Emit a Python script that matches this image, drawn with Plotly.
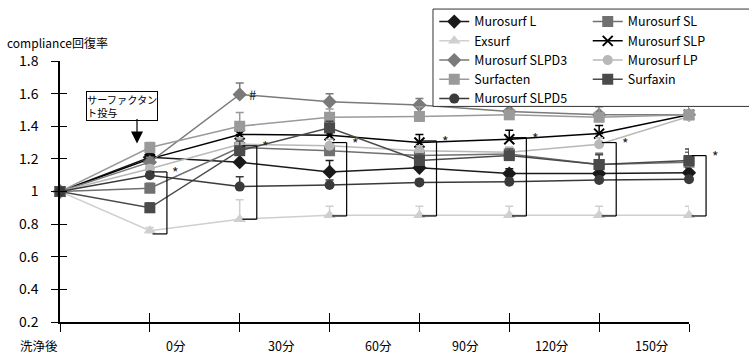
import plotly.graph_objects as go

# ---------------- data ----------------
x_index = [0, 1, 2, 3, 4, 5, 6, 7]
x_tick_labels = ["洗浄後", "0分", "30分", "60分", "90分", "120分", "150分"]
x_label_pos = [-0.23, 1.29, 2.46, 3.54, 4.51, 5.48, 6.59]
y_tick_vals = [0.2, 0.4, 0.6, 0.8, 1.0, 1.2, 1.4, 1.6, 1.8]
y_tick_labels = ["0.2", "0.4", "0.6", "0.8", "1", "1.2", "1.4", "1.6", "1.8"]

murosurf_L = [1, 1.21, 1.18, 1.12, 1.145, 1.11, 1.11, 1.115]
murosurf_L_err = [0, 0.02, 0.05, 0.07, 0.03, 0.03, 0.03, 0.03]
murosurf_SL = [1, 1.02, 1.27, 1.25, 1.22, 1.23, 1.165, 1.18]
murosurf_SL_err = [0, 0.03, 0.05, 0.04, 0.04, 0.04, 0.07, 0.06]
exsurf = [1, 0.76, 0.83, 0.855, 0.855, 0.855, 0.855, 0.855]
exsurf_err = [0, 0.02, 0.12, 0.055, 0.055, 0.055, 0.055, 0.055]
murosurf_SLP = [1, 1.20, 1.35, 1.345, 1.30, 1.32, 1.355, 1.47]
murosurf_SLP_err = [0, 0.02, 0.04, 0.03, 0.05, 0.055, 0.05, 0.11]
murosurf_SLPD3 = [1, 1.18, 1.595, 1.55, 1.53, 1.49, 1.47, 1.47]
murosurf_SLPD3_err = [0, 0.03, 0.07, 0.05, 0.04, 0.04, 0.05, 0.06]
murosurf_LP = [1, 1.14, 1.29, 1.28, 1.25, 1.24, 1.29, 1.46]
murosurf_LP_err = [0, 0.02, 0.04, 0.04, 0.03, 0.03, 0.04, 0.03]
surfacten = [1, 1.27, 1.40, 1.455, 1.46, 1.47, 1.455, 1.47]
surfacten_err = [0, 0.03, 0.085, 0.05, 0.06, 0.07, 0.09, 0.08]
surfaxin = [1, 0.90, 1.25, 1.39, 1.19, 1.22, 1.165, 1.19]
surfaxin_err = [0, 0.03, 0.06, 0.04, 0.04, 0.04, 0.06, 0.07]
murosurf_SLPD5 = [1, 1.10, 1.03, 1.04, 1.055, 1.06, 1.07, 1.075]
murosurf_SLPD5_err = [0, 0.02, 0.06, 0.03, 0.02, 0.02, 0.02, 0.02]

# significance brackets (* markers)
sig_cols = [1, 2, 3, 4, 5, 6, 7]
sig_top = [1.12, 1.28, 1.30, 1.31, 1.33, 1.30, 1.22]
sig_bottom = [0.74, 0.83, 0.85, 0.85, 0.85, 0.85, 0.85]

FONT = "Noto Sans CJK JP, Noto Sans, sans-serif"

series = [
    # name, values, err, color, symbol, size, legend
    ("Murosurf L", murosurf_L, murosurf_L_err, "#1a1a1a", "diamond", 11, "legend"),
    ("Murosurf SL", murosurf_SL, murosurf_SL_err, "#707070", "square", 11, "legend2"),
    ("Exsurf", exsurf, exsurf_err, "#cfcfcf", "triangle-up", 11, "legend"),
    ("Murosurf SLP", murosurf_SLP, murosurf_SLP_err, "#000000", "x-thin-open", 10, "legend2"),
    ("Murosurf SLPD3", murosurf_SLPD3, murosurf_SLPD3_err, "#7a7a7a", "diamond", 11, "legend"),
    ("Murosurf LP", murosurf_LP, murosurf_LP_err, "#b8b8b8", "circle", 10, "legend2"),
    ("Surfacten", surfacten, surfacten_err, "#9a9a9a", "square", 11, "legend"),
    ("Surfaxin", surfaxin, surfaxin_err, "#4a4a4a", "square", 11, "legend2"),
    ("Murosurf SLPD5", murosurf_SLPD5, murosurf_SLPD5_err, "#3a3a3a", "circle", 10, "legend"),
]

fig = go.Figure()
for name, vals, err, color, symbol, size, leg in series:
    marker = dict(symbol=symbol, size=size, color=color)
    if symbol.startswith("x-thin"):
        marker["line"] = dict(color=color, width=2)
    fig.add_trace(go.Scatter(
        x=x_index, y=vals, name=name, mode="lines+markers",
        line=dict(color=color, width=1.5),
        marker=marker,
        error_y=dict(type="data", array=err, arrayminus=[0] * len(err),
                     symmetric=False, color=color, thickness=1.5, width=4),
        cliponaxis=False, legend=leg,
    ))

# dummy trace for overlay axes (crossing tick marks)
fig.add_trace(go.Scatter(x=[None], y=[None], xaxis="x2", yaxis="y2",
                         showlegend=False, hoverinfo="skip"))

N = 7.0  # x range span
shapes = []
annotations = []
for c, top, bot in zip(sig_cols, sig_top, sig_bottom):
    xa = (c + 0.03) / N
    xb = (c + 0.19) / N
    shapes.append(dict(type="line", xref="paper", yref="y", x0=xa, x1=xb, y0=top, y1=top,
                       line=dict(color="black", width=1.2)))
    shapes.append(dict(type="line", xref="paper", yref="y", x0=xb, x1=xb, y0=top, y1=bot,
                       line=dict(color="black", width=1.2)))
    shapes.append(dict(type="line", xref="paper", yref="y", x0=xa, x1=xb, y0=bot, y1=bot,
                       line=dict(color="black", width=1.2)))
    annotations.append(dict(text="*", xref="paper", yref="y", x=(c + 0.29) / N, y=top,
                            showarrow=False, font=dict(family=FONT, size=14, color="#222"),
                            xanchor="center", yanchor="middle"))

# '#' mark on SLPD3 at 30分
annotations.append(dict(text="#", xref="paper", yref="y", x=(2 + 0.08) / N,
                        y=murosurf_SLPD3[2], showarrow=False,
                        font=dict(family=FONT, size=13, color="#222"),
                        xanchor="left", yanchor="middle"))

# x category labels
for lab, pos in zip(x_tick_labels, x_label_pos):
    annotations.append(dict(text=lab, xref="paper", yref="paper", x=pos / N, y=-0.09,
                            showarrow=False, font=dict(family=FONT, size=12.5, color="black"),
                            xanchor="center", yanchor="middle"))

# y title
annotations.append(dict(text="compliance回復率", xref="paper", yref="paper",
                        x=-0.087, y=1.072, showarrow=False, xanchor="left", yanchor="middle",
                        font=dict(family=FONT, size=12, color="black")))

# surfactant administration box + arrow
annotations.append(dict(text="サーファクタン<br>ト投与", xref="paper", yref="paper",
                        x=0.0413, y=0.885, xanchor="left", yanchor="top", align="left",
                        showarrow=False, bordercolor="black", borderwidth=1, borderpad=0,
                        bgcolor="white", font=dict(family=FONT, size=10.2, color="black")))
annotations.append(dict(text="", xref="x", yref="y", x=0.857, y=1.295,
                        ax=0, ay=-26, showarrow=True, arrowhead=2, arrowsize=2,
                        arrowwidth=1.2, arrowcolor="black"))

# legend frame (white, opaque, drawn above traces; legends drawn on top)
shapes.append(dict(type="rect", xref="paper", yref="paper", x0=0.593, x1=1.2,
                   y0=0.826, y1=1.199, line=dict(color="#333", width=1),
                   fillcolor="white", layer="above"))

fig.update_layout(
    width=749, height=355,
    margin=dict(l=60, r=60, t=61, b=33, autoexpand=False),
    paper_bgcolor="white", plot_bgcolor="white",
    font=dict(family=FONT, color="black"),
    showlegend=True,
    legend=dict(x=0.595, y=1.207, xanchor="left", yanchor="top",
                bgcolor="rgba(0,0,0,0)",
                borderwidth=0, font=dict(family=FONT, size=12.5, color="black"),
                tracegroupgap=0),
    legend2=dict(x=0.839, y=1.207, xanchor="left", yanchor="top",
                 bgcolor="rgba(0,0,0,0)",
                 borderwidth=0, font=dict(family=FONT, size=12.5, color="black"),
                 tracegroupgap=0),
    xaxis=dict(range=[0, 7], tickvals=x_index, ticks="outside", ticklen=8,
               tickcolor="black", tickwidth=1.2, showticklabels=False,
               showline=True, linecolor="black", linewidth=1.5,
               showgrid=False, zeroline=False, fixedrange=True),
    xaxis2=dict(overlaying="x", anchor="y", range=[0, 7], tickvals=x_index,
                ticks="inside", ticklen=9, tickcolor="black", tickwidth=1.2,
                showticklabels=False, showline=False, showgrid=False, zeroline=False),
    yaxis=dict(range=[0.2, 1.8], tickvals=y_tick_vals, ticktext=y_tick_labels,
               ticks="outside", ticklen=7, tickcolor="black", tickwidth=1.2,
               ticklabelstandoff=10,
               tickfont=dict(family=FONT, size=14, color="black"),
               showline=True, linecolor="black", linewidth=1.5,
               showgrid=False, zeroline=False),
    yaxis2=dict(overlaying="y", anchor="x", side="left", range=[0.2, 1.8],
                tickvals=y_tick_vals, ticks="inside", ticklen=7, tickcolor="black",
                tickwidth=1.2, showticklabels=False, showline=False,
                showgrid=False, zeroline=False),
    shapes=shapes,
    annotations=annotations,
)

fig.write_html("out.html",
               config={"displayModeBar": False},
               post_script="document.body.style.margin='0px';document.body.style.padding='0px';")
